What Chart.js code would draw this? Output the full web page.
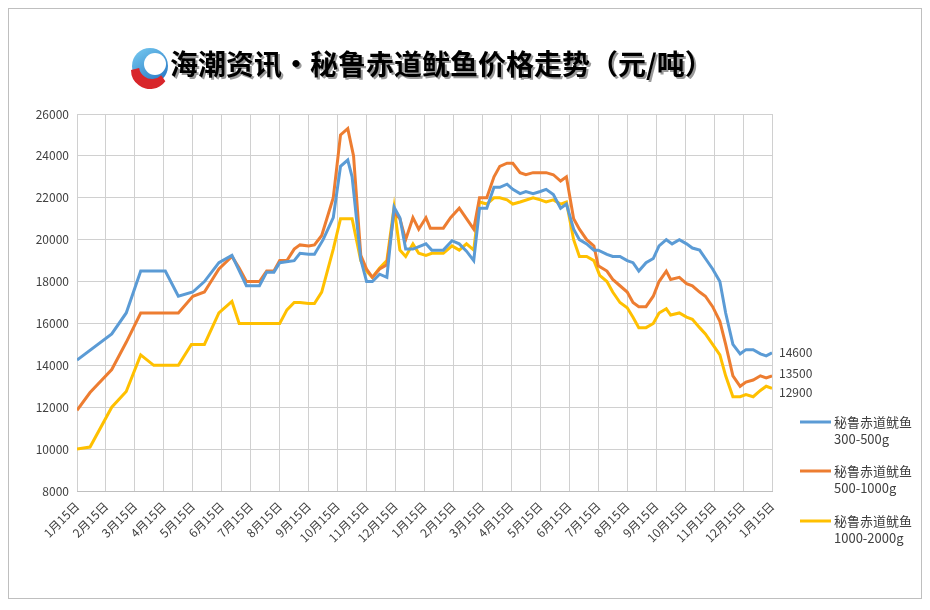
<!DOCTYPE html>
<html><head><meta charset="utf-8">
<script src="https://cdn.jsdelivr.net/npm/chart.js@4"></script>
<style>html,body{margin:0;padding:0;background:#fff}#w{position:relative;width:930px;height:610px}</style>
</head><body><div id="w"><canvas id="c" width="930" height="610"></canvas></div>
<script>
const monthLabels=["1月15日","2月15日","3月15日","4月15日","5月15日","6月15日","7月15日","8月15日","9月15日","10月15日","11月15日","12月15日","1月15日","2月15日","3月15日","4月15日","5月15日","6月15日","7月15日","8月15日","9月15日","10月15日","11月15日","12月15日","1月15日"];
const seriesNames=["秘鲁赤道鱿鱼\n300-500g","秘鲁赤道鱿鱼\n500-1000g","秘鲁赤道鱿鱼\n1000-2000g"];
const blueX=[0,1.2,1.7,2.2,3.05,3.5,4,4.4,4.9,5.35,5.85,6.3,6.55,6.8,7,7.5,7.7,8,8.2,8.5,8.85,9.1,9.35,9.5,9.8,10,10.2,10.45,10.7,10.95,11.15,11.35,11.6,12.05,12.25,12.65,12.95,13.2,13.45,13.7,13.9,14.15,14.4,14.6,14.85,15.05,15.3,15.5,15.75,16,16.2,16.45,16.7,16.9,17.15,17.35,17.6,17.85,18,18.3,18.5,18.75,19,19.2,19.4,19.65,19.9,20.1,20.35,20.55,20.8,21.05,21.25,21.5,21.7,21.95,22.2,22.4,22.65,22.9,23.1,23.35,23.6,23.8,24];
const blue=[14250,15500,16500,18500,18500,17300,17500,18000,18900,19250,17800,17800,18450,18450,18900,19000,19350,19300,19300,20000,21050,23500,23800,23000,19050,18000,18000,18350,18200,21550,21050,19550,19550,19800,19500,19500,19950,19800,19450,19000,21500,21500,22500,22500,22650,22400,22200,22300,22200,22300,22400,22150,21500,21700,20500,20000,19800,19500,19500,19300,19200,19200,19000,18900,18500,18900,19100,19700,20000,19800,20000,19800,19600,19500,19100,18600,18000,16500,15000,14550,14750,14750,14550,14450,14600];
const orangeX=[0,0.45,1.2,1.7,2.2,3.5,4,4.4,4.9,5.35,5.6,5.85,6.3,6.55,6.8,7,7.25,7.5,7.7,8,8.2,8.45,8.85,9.1,9.35,9.55,9.8,10,10.2,10.45,10.7,10.95,11.15,11.35,11.6,11.8,12.05,12.2,12.65,12.9,13.2,13.45,13.7,13.9,14.15,14.4,14.6,14.85,15.05,15.3,15.5,15.75,16.2,16.45,16.7,16.9,17.15,17.35,17.6,17.85,18,18.3,18.5,18.75,19,19.2,19.4,19.65,19.9,20.1,20.35,20.5,20.8,21.05,21.25,21.5,21.7,21.95,22.2,22.4,22.65,22.9,23.1,23.35,23.6,23.8,24];
const orange=[11850,12700,13800,15100,16500,16500,17300,17500,18600,19200,18650,18000,18000,18500,18500,19000,19000,19550,19750,19700,19750,20200,22000,25000,25300,24000,19250,18600,18200,18600,18800,21300,21000,20000,21050,20500,21050,20550,20550,21050,21500,21000,20500,22000,22000,23000,23500,23650,23650,23200,23100,23200,23200,23100,22800,23000,21000,20500,20000,19700,18750,18500,18100,17800,17500,17000,16800,16800,17300,18000,18500,18100,18200,17900,17800,17500,17300,16800,16100,15000,13500,13000,13200,13300,13500,13400,13500];
const yellowX=[0,0.45,1.2,1.7,2.2,2.65,3.5,3.95,4.4,4.9,5.35,5.6,7,7.25,7.5,7.7,8,8.2,8.45,8.85,9.1,9.5,9.8,10,10.2,10.45,10.7,10.95,11.15,11.35,11.6,11.8,12.05,12.25,12.65,12.95,13.2,13.45,13.7,13.9,14.15,14.4,14.6,14.85,15.05,15.3,15.75,16,16.2,16.45,16.7,16.9,17.15,17.35,17.6,17.85,18.05,18.3,18.5,18.75,19,19.2,19.4,19.65,19.9,20.1,20.35,20.5,20.8,21.05,21.25,21.5,21.7,21.95,22.2,22.4,22.65,22.9,23.1,23.35,23.6,23.8,24];
const yellow=[10000,10100,12000,12750,14500,14000,14000,15000,15000,16500,17050,16000,16000,16650,17000,17000,16950,16950,17500,19550,21000,21000,19000,18500,18200,18650,19000,21550,19500,19200,19800,19350,19250,19350,19350,19700,19500,19800,19500,21800,21700,22000,22000,21900,21700,21800,22000,21900,21800,21900,21700,21800,20000,19200,19200,19000,18300,18000,17500,17000,16750,16300,15800,15800,16000,16500,16700,16400,16500,16300,16200,15800,15500,15000,14500,13500,12500,12500,12600,12500,12800,13000,12900];
const yTicks=[8000,10000,12000,14000,16000,18000,20000,22000,24000,26000];
const colors=["#5B9BD5","#ED7D31","#FFC000"];
const zip=(xs,ys)=>xs.map((x,i)=>({x:x,y:ys[i]}));
const FONT='"Microsoft YaHei","Noto Sans CJK SC","Noto Sans",sans-serif';

const deco={id:'deco',
 beforeDraw(ch){const c=ch.ctx;c.save();c.fillStyle='#fff';c.fillRect(0,0,930,610);
  c.strokeStyle='#bfbfbf';c.lineWidth=1;c.strokeRect(8.5,8.5,913,590);c.restore();},
 afterDraw(ch){const c=ch.ctx;c.save();
  const g=c.createLinearGradient(130,45,160,90);g.addColorStop(0,'#7fd3f5');g.addColorStop(1,'#1f6fc0');
  c.fillStyle=g;c.beginPath();c.arc(150,66,18,0,Math.PI*2);c.fill();
  c.fillStyle='#fff';c.beginPath();c.arc(155,64,11,0,Math.PI*2);c.fill();
  c.fillStyle='#d8262b';c.beginPath();c.arc(150,70,19,0.2*Math.PI,1.0*Math.PI);c.arc(152,66,13,0.95*Math.PI,0.25*Math.PI,true);c.fill();
  c.font='bold 28px '+FONT;c.textBaseline='middle';c.textAlign='left';
  const t='海潮资讯•秘鲁赤道鱿鱼价格走势（元/吨）';
  c.fillStyle='#999';c.fillText(t,172,66);
  c.fillStyle='#000';c.fillText(t,170,64);
  c.font='12px '+FONT;c.fillStyle='#404040';
  const offs=[0,-2,4];
  ch.data.datasets.forEach((d,i)=>{const m=ch.getDatasetMeta(i);const p=m.data[m.data.length-1];
   c.fillText(String(d.data[d.data.length-1].y),p.x+7,p.y+offs[i]);});
  const ly=[422,471,521];
  seriesNames.forEach((n,i)=>{c.strokeStyle=colors[i];c.lineWidth=3;c.beginPath();c.moveTo(800,ly[i]);c.lineTo(831,ly[i]);c.stroke();
   const parts=n.split('\n');c.font='13px '+FONT;c.fillStyle='#404040';
   c.fillText(parts[0],834,ly[i]);c.fillText(parts[1],834,ly[i]+17);});
  c.restore();}};

new Chart(document.getElementById('c'),{type:'line',
 data:{datasets:[blue,orange,yellow].map((arr,i)=>({label:seriesNames[i],data:zip([blueX,orangeX,yellowX][i],arr),borderColor:colors[i],backgroundColor:colors[i],borderWidth:3,pointRadius:0,tension:0,fill:false}))},
 options:{responsive:false,animation:false,
  layout:{padding:{left:10,top:114,right:158,bottom:10}},
  plugins:{legend:{display:false},tooltip:{enabled:false}},
  scales:{
   x:{type:'linear',min:0,max:24,afterBuildTicks:s=>{s.ticks=monthLabels.map((_,i)=>({value:i}));},
      afterFit:s=>{s.height=109;},
      grid:{color:'#d0d0d0',tickLength:0},border:{color:'#bfbfbf'},
      ticks:{autoSkip:false,maxRotation:45,minRotation:45,color:'#404040',font:{size:12,family:FONT},padding:8,callback:v=>monthLabels[v]}},
   y:{min:8000,max:26000,afterBuildTicks:s=>{s.ticks=yTicks.map(v=>({value:v}));},
      afterFit:s=>{s.width=67;},
      grid:{color:'#d0d0d0',tickLength:0},border:{display:false},
      ticks:{color:'#404040',font:{size:12,family:FONT},padding:8,callback:v=>String(v)}}}},
 plugins:[deco]});
</script></body></html>
